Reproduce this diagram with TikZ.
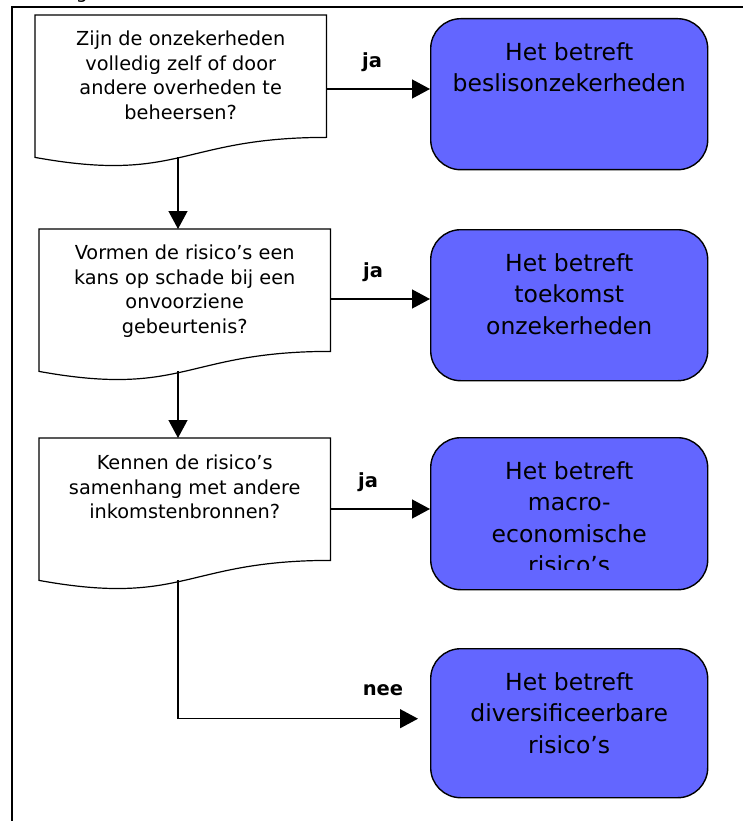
\documentclass[tikz,border=0pt]{standalone}
\usepackage{fontspec}
\setmainfont{DejaVu Sans}
\usetikzlibrary{arrows.meta,calc}
\definecolor{boxblue}{RGB}{99,102,255}
\newcommand\docpath[1]{\draw[qshape] (#1.north west) -- (#1.north east) -- (#1.south east) .. controls (#1.south) and ($(#1.south)+(0,46.4)$) .. ($(#1.south west)+(0,20)$) -- cycle;}
\begin{document}
\begin{tikzpicture}[x=1pt,y=-1pt,
  qbox/.style={draw=none, minimum width=291pt, minimum height=122pt, inner sep=0pt, anchor=north west},
  qshape/.style={draw=black, line width=1.2pt, line join=miter},
  qtext/.style={align=center, inner sep=0pt, anchor=north, font=\fontsize{19.3}{24.5}\selectfont},
  bluebox/.style={draw=black, line width=1.4pt, fill=boxblue, rounded corners=30pt, minimum width=277pt, inner sep=0pt, anchor=north west},
  btext/.style={align=center, inner sep=0pt, anchor=north, font=\fontsize{23.5}{31.5}\selectfont},
  lbl/.style={font=\bfseries\fontsize{19.5}{22}\selectfont, inner sep=0pt},
  arr/.style={draw=black, line width=1.3pt, -{Triangle[length=18pt,width=19pt]}},
  frame/.style={draw=black, line width=1.5pt},
]
\useasboundingbox (0,0) rectangle (742,821);

% clipped caption fragment and outer frame
\node[anchor=base, inner sep=0pt, font=\fontsize{19}{22}\selectfont] (capfrag) at (82,-1) {g};
\coordinate (fr1) at (760,7);
\coordinate (fr2) at (12,7);
\coordinate (fr3) at (12,840);
\draw[frame] (fr1) -- (fr2) -- (fr3);

% question boxes
\node[qbox] (q1) at (35,15) {};
\node[qbox] (q2) at (39,229) {};
\node[qbox] (q3) at (39,438) {};
\docpath{q1}
\docpath{q2}
\docpath{q3}
\node[qtext] (q1t) at ($(q1.north)+(0,16)$) {Zijn de onzekerheden\\volledig zelf of door\\andere overheden te\\beheersen?};
\node[qtext] (q2t) at ($(q2.north)+(0,16)$) {Vormen de risico’s een\\kans op schade bij een\\onvoorziene\\gebeurtenis?};
\node[qtext] (q3t) at ($(q3.north)+(0,17)$) {Kennen de risico’s\\samenhang met andere\\inkomstenbronnen?};

% answer boxes
\node[bluebox, minimum height=151pt] (a1) at (430,18) {};
\node[bluebox, minimum height=151pt] (a2) at (430,229) {};
\node[bluebox, minimum height=152pt] (a3) at (430,437) {};
\node[bluebox, minimum height=149pt] (a4) at (430,648) {};
\node[btext] (a1t) at ($(a1.north)+(0,24)$) {Het betreft\\beslisonzekerheden};
\node[btext] (a2t) at ($(a2.north)+(0,24)$) {Het betreft\\toekomst\\onzekerheden};
\begin{scope}
\clip (430,437) rectangle (707,569);
\node[btext] (a3t) at ($(a3.north)+(0,24)$) {Het betreft\\macro-\\economische\\risico’s};
\end{scope}
\node[btext] (a4t) at ($(a4.north)+(0,24)$) {Het betreft\\diversificeerbare\\risico’s};

% connectors
\coordinate (q1b) at ($(q1.south west)+(143,19.9)$);
\coordinate (q2b) at ($(q2.south west)+(139,19.9)$);
\coordinate (q3b) at ($(q3.south west)+(139,19.9)$);
\draw[arr] (q1b) -- (q1b |- q2.north);
\draw[arr] (q2b) -- (q2b |- q3.north);
\coordinate (neeend) at ($(a4.west)+(-12,-4.5)$);
\draw[arr] (q3b) |- (neeend);

\coordinate (q1e) at ($(q1.north east)+(0,74)$);
\coordinate (q2e) at ($(q2.north east)+(0,70)$);
\coordinate (q3e) at ($(q3.north east)+(0,71)$);
\draw[arr] (q1e) -- (q1e -| a1.west);
\draw[arr] (q2e) -- (q2e -| a2.west);
\draw[arr] (q3e) -- (q3e -| a3.west);

% labels
\node[lbl] (ja1) at (372,62) {ja};
\node[lbl] (ja2) at (373,272) {ja};
\node[lbl] (ja3) at (368,482) {ja};
\node[lbl] (nee) at (383,690) {nee};
\end{tikzpicture}
\end{document}
